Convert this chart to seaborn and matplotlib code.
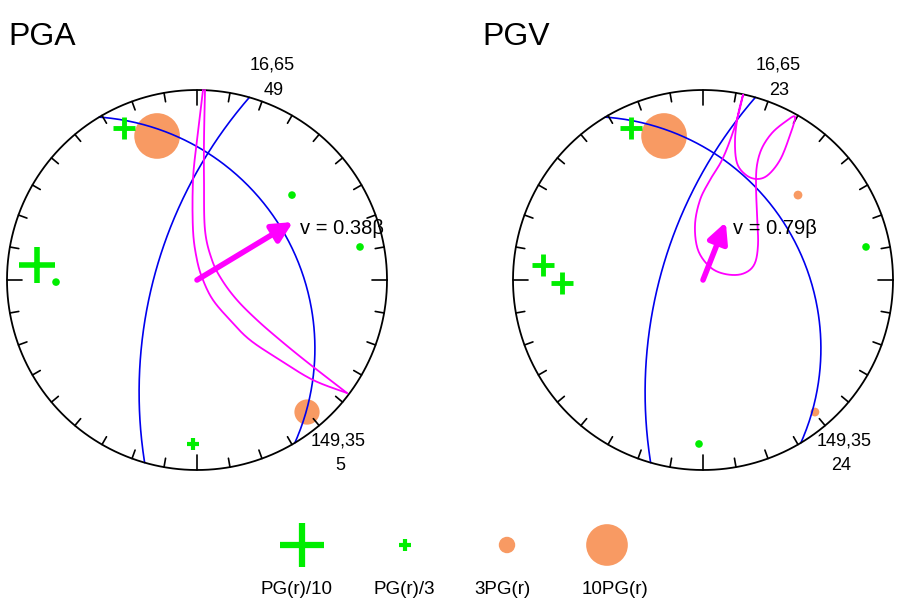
import numpy as np
import pandas as pd
import matplotlib
matplotlib.use("Agg")
import matplotlib.pyplot as plt
import seaborn as sns

sns.set_theme(style="white")
plt.rcParams['font.family'] = ['Liberation Sans', 'DejaVu Sans']
plt.rcParams['text.color'] = 'black'

# ---- data ----
titles = ["PGA", "PGV"]
planes = [(16, 65), (149, 35)]          # strike, dip
plane_values = [[49, 5], [23, 24]]
velocity_labels = ["v = 0.38β", "v = 0.79β"]
# arrow tip in unit-circle coords (x east, y north)
arrow_tips = [(0.505, 0.305), (0.12, 0.305)]
# magenta directivity curves, read in picture pixels of each stereonet
mag_left_a_px = [(205, 90), (204, 140), (204, 180), (205, 230), (212, 260), (222, 280), (237, 300),
                 (257, 320), (280, 340), (307, 362), (347, 393)]
mag_left_b_px = [(203, 90), (197, 140), (193, 180), (193, 230), (197, 260), (203, 280), (213, 300),
                 (230, 320), (250, 340), (280, 360), (313, 380), (347, 393)]
mag_right_px = [(743, 95), (738, 115), (735, 140), (737, 163), (746, 175), (757, 179), (768, 175), (780, 160),
                (789, 138), (795, 117), (785, 122), (772, 133), (762, 148), (757, 165), (756, 185), (757, 215),
                (758, 245), (754, 265), (742, 274), (725, 274), (710, 267), (698, 250), (695, 225), (700, 200),
                (710, 180), (722, 160), (732, 135), (739, 112), (743, 95)]
# station symbols: (x, y, kind) in unit-circle coords
symbols = [
    [(-0.842, 0.079, 'p10'), (-0.742, -0.011, 'g1'), (0.5, 0.447, 'g1'), (0.858, 0.174, 'g1'),
     (-0.384, 0.8, 'p3b'), (-0.021, -0.863, 'p3'), (-0.21, 0.758, 'o10'), (0.579, -0.695, 'o5')],
    [(-0.379, 0.8, 'p3b'), (-0.842, 0.079, 'p3b'), (-0.742, -0.016, 'p3b'), (0.858, 0.174, 'g1'),
     (-0.021, -0.863, 'g1'), (-0.205, 0.758, 'o10'), (0.5, 0.447, 'o1'), (0.589, -0.695, 'o1')],
]
legend_labels = ["PG(r)/10", "PG(r)/3", "3PG(r)", "10PG(r)"]

GREEN = "#00ee00"
ORANGE = "#f89a63"
MAG = "#ff00ff"
R = 190.0
centers = [(197.0, 280.0), (703.0, 280.0)]

fig = plt.figure(figsize=(9, 6.09), dpi=100)
ax = fig.add_axes([0, 0, 1, 1])
ax.set_xlim(0, 900)
ax.set_ylim(609, 0)
ax.set_aspect('equal')
ax.axis('off')

def to_px(c, pts):
    cx, cy = c
    pts = np.asarray(pts, float)
    return cx + R * pts[:, 0], cy - R * pts[:, 1]

def smooth(pts, n=12):
    p = np.asarray(pts, float)
    p = np.vstack([p[0], p, p[-1]])
    out = []
    for i in range(1, len(p) - 2):
        p0, p1, p2, p3 = p[i - 1], p[i], p[i + 1], p[i + 2]
        for t in np.linspace(0, 1, n, endpoint=False):
            t2, t3 = t * t, t * t * t
            out.append(0.5 * ((2 * p1) + (-p0 + p2) * t + (2 * p0 - 5 * p1 + 4 * p2 - p3) * t2
                              + (-p0 + 3 * p1 - 3 * p2 + p3) * t3))
    out.append(p[-2])
    return np.array(out)

def great_circle(strike, dip, n=200):
    st = np.radians(strike); dd = np.radians(strike - 90); d = np.radians(dip)
    s = np.array([np.sin(st), np.cos(st), 0.0])
    dv = np.array([np.cos(d) * np.sin(dd), np.cos(d) * np.cos(dd), np.sin(d)])
    th = np.linspace(0, np.pi, n)
    v = np.outer(np.cos(th), s) + np.outer(np.sin(th), dv)
    pl = np.arcsin(np.clip(v[:, 2], -1, 1))
    tr = np.arctan2(v[:, 0], v[:, 1])
    r = np.tan((np.pi / 2 - pl) / 2)
    return np.column_stack([r * np.sin(tr), r * np.cos(tr)])

def sizes(kind):
    return {'p10': ('+', 700, 4.0, GREEN), 'p3b': ('+', 230, 3.5, GREEN), 'p3': ('+', 70, 3.0, GREEN),
            'g1': ('o', 30, 0, GREEN), 'o10': ('o', 1080, 0, ORANGE), 'o5': ('o', 330, 0, ORANGE),
            'o1': ('o', 40, 0, ORANGE)}[kind]

for i, c in enumerate(centers):
    cx, cy = c
    t = np.linspace(0, 2 * np.pi, 400)
    ax.plot(cx + R * np.cos(t), cy + R * np.sin(t), color='black', lw=1.3, zorder=3)
    for a in range(0, 360, 10):
        ar = np.radians(a)
        L = 15 if a % 90 == 0 else 9
        ax.plot([cx + R * np.sin(ar), cx + (R - L) * np.sin(ar)],
                [cy - R * np.cos(ar), cy - (R - L) * np.cos(ar)], color='black', lw=1.2, zorder=3)
    for (st, dp) in planes:
        gx, gy = to_px(c, great_circle(st, dp))
        ax.plot(gx, gy, color='#0000ee', lw=1.2, zorder=2)
    for (x, y, k) in symbols[i]:
        m, s, lw, col = sizes(k)
        px, py = to_px(c, [(x, y)])
        if m == '+':
            ax.scatter(px, py, marker='+', s=s, linewidths=lw, color=col, zorder=4)
        else:
            ax.scatter(px, py, marker='o', s=s, color=col, edgecolors='none', zorder=1)
    curves = [mag_left_a_px, mag_left_b_px] if i == 0 else [mag_right_px]
    for cv in curves:
        sm = smooth(cv)
        sns.lineplot(x=sm[:, 0], y=sm[:, 1], sort=False, estimator=None, color=MAG, lw=1.3, ax=ax, zorder=5)
    tx, ty = to_px(c, [arrow_tips[i]])
    ax.annotate("", xy=(tx[0], ty[0]), xytext=(cx, cy),
                arrowprops=dict(arrowstyle='-|>,head_length=1.0,head_width=0.5', color=MAG, lw=4,
                                shrinkA=0, shrinkB=0), zorder=6)
    ax.text(tx[0] + 7, ty[0] + 6, velocity_labels[i], fontsize=14.5, va='center', ha='left', zorder=7)
    for j, (st, dp) in enumerate(planes):
        ar = np.radians(st)
        ex, ey = cx + R * np.sin(ar), cy - R * np.cos(ar)
        if j == 0:
            ax.text(ex + 45, ey - 32, f"{st},{dp}", fontsize=13, ha='right', va='center')
            ax.text(ex + 34, ey - 7, f"{plane_values[i][j]}", fontsize=13, ha='right', va='center')
        else:
            ax.text(ex + 71, ey - 2, f"{st},{dp}", fontsize=13, ha='right', va='center')
            ax.text(ex + 50, ey + 23, f"{plane_values[i][j]}", fontsize=13, ha='right', va='center')

ax.text(8, 37, titles[0], fontsize=23, va='center')
ax.text(482, 37, titles[1], fontsize=23, va='center')

# legend
leg_x = [302, 405, 507, 607]
leg_kinds = [('+', 1000, 4.5, GREEN), ('+', 75, 3.0, GREEN), ('o', 140, 0, ORANGE), ('o', 900, 0, ORANGE)]
for x, (m, s, lw, col) in zip(leg_x, leg_kinds):
    if m == '+':
        ax.scatter([x], [545], marker='+', s=s, linewidths=lw, color=col)
    else:
        ax.scatter([x], [545], marker='o', s=s, color=col, edgecolors='none')
for x, lab in zip([296, 404, 502, 615], legend_labels):
    ax.text(x, 590, lab, fontsize=13.5, ha='center', va='center')

fig.savefig("out.png", dpi=100)
